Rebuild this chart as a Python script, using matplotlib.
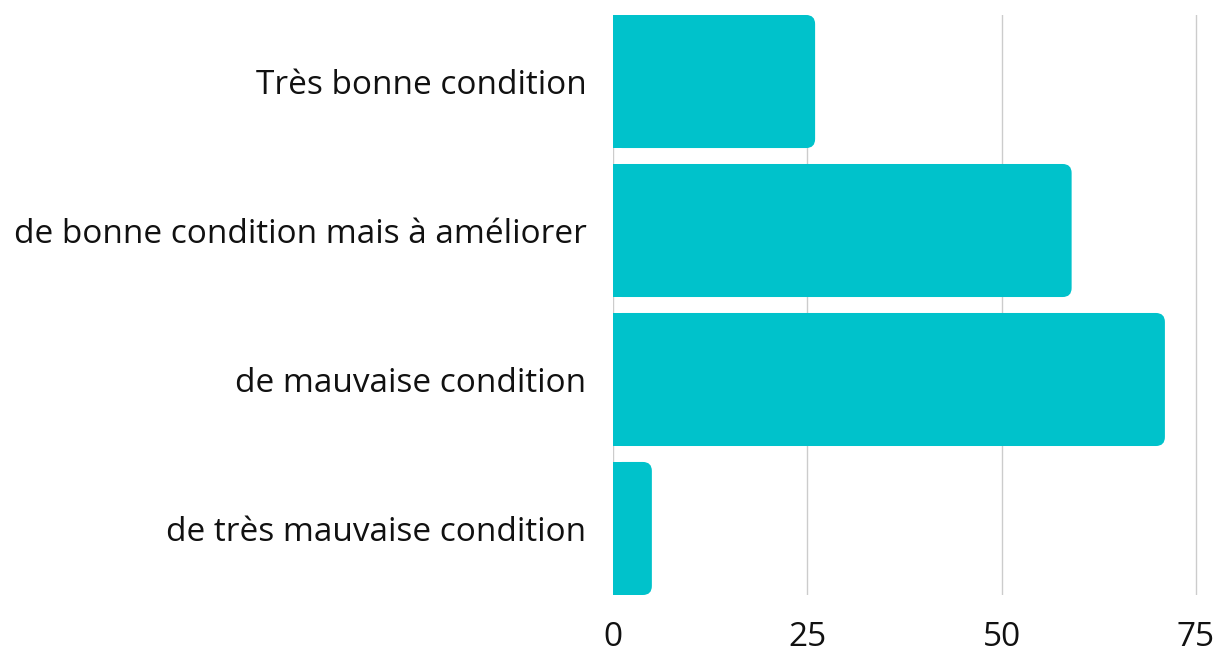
import matplotlib
matplotlib.use("Agg")
import matplotlib.pyplot as plt
from matplotlib.patches import FancyBboxPatch, Rectangle

categories = ["Très bonne condition",
              "de bonne condition mais à améliorer",
              "de mauvaise condition",
              "de très mauvaise condition"]
values = [26, 59, 71, 5]
xticks = [0, 25, 50, 75]

plt.rcParams['font.family'] = ['Open Sans', 'DejaVu Sans']
couleur = '#00c2cb'

fig = plt.figure(figsize=(12.18, 6.5), dpi=100)
x0, x75 = 613, 1196
xmax = 75.3
largeur = (x75 - x0) * xmax / 75
ax = fig.add_axes([x0 / 1218, 1 - 595 / 650, largeur / 1218, 580 / 650])

h = 0.893
ax.set_xlim(0, xmax)
ax.set_ylim(len(categories) - 1 + h / 2, -h / 2)

# rayon des coins arrondis en pixels -> unites des donnees
px_x = 75 / (x75 - x0)
px_y = (len(categories) - 1 + h) / 580
r_px = 9
for i, v in enumerate(values):
    r = r_px * px_x
    box = FancyBboxPatch((0, i - h / 2), v, h,
                         boxstyle="round,pad=0,rounding_size=%f" % r,
                         mutation_aspect=px_y / px_x,
                         fc=couleur, ec='none', zorder=3)
    ax.add_patch(box)
    ax.add_patch(Rectangle((0, i - h / 2), min(v, 2 * r), h,
                           fc=couleur, ec='none', zorder=3))

ax.set_yticks(range(len(categories)))
ax.set_yticklabels(categories)
ax.set_xticks(xticks)
ax.grid(axis='x', color='#cccccc', lw=1, zorder=0)
for s in ax.spines.values():
    s.set_visible(False)
ax.tick_params(axis='both', length=0, labelsize=24, colors='#111111')
ax.tick_params(axis='y', pad=19)
ax.tick_params(axis='x', pad=19)

fig.savefig("out.png", dpi=100, facecolor='white')
